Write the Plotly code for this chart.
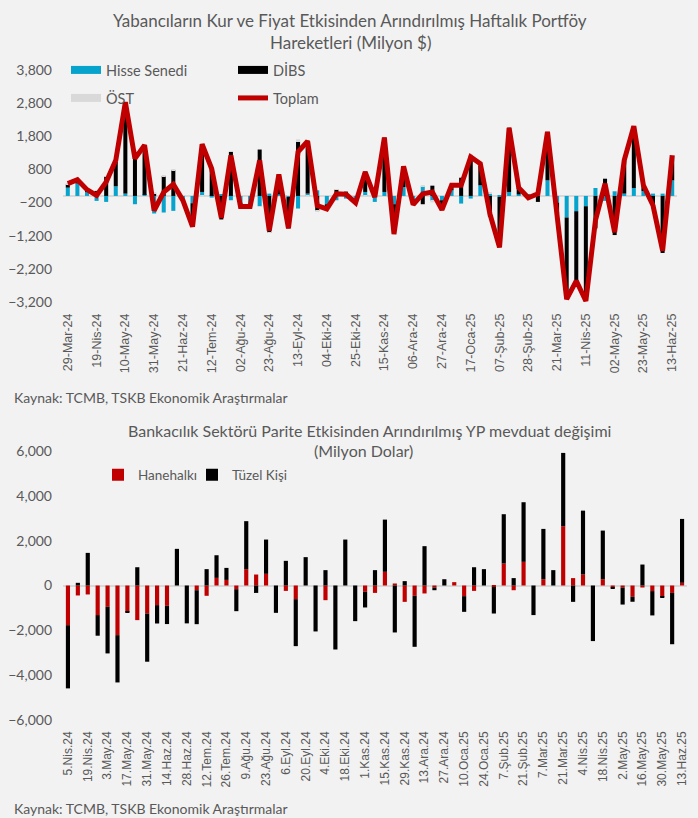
import plotly.graph_objects as go
import pandas as pd

# ---------------- Top chart data (weekly, Milyon $) ----------------
top_tick_labels = ["29-Mar-24", "19-Nis-24", "10-May-24", "31-May-24", "21-Haz-24", "12-Tem-24",
                   "02-Ağu-24", "23-Ağu-24", "13-Eyl-24", "04-Eki-24", "25-Eki-24", "15-Kas-24",
                   "06-Ara-24", "27-Ara-24", "17-Oca-25", "07-Şub-25", "28-Şub-25", "21-Mar-25",
                   "11-Nis-25", "02-May-25", "23-May-25", "13-Haz-25"]

hisse = [250, 375, 120, -150, -180, 290, 70, -250, 30, -530, -500, -450, -100, -220, 120, -50,
         50, -130, -210, -250, -310, 70, 50, -30, -380, 70, 170, -250, -130, -80, -100, 120,
         -180, 120, -250, 270, -100, 290, -150, -130, 170, -230, -80, 320, 70, -30, 120, 50,
         30, 100, 470, -200, -650, -460, -310, 240, -150, 140, 70, 240, 150, 70, 70, 470]

dibs = [100, 100, 70, 150, 595, 740, 2720, 1350, 1500, 70, 600, 780, -30, -700, 1450, 830,
        -710, 1330, -110, -70, 1400, -1110, 600, -950, 1650, 1600, -450, -140, 190, 130, -110, 620,
        150, 1640, -900, 620, -160, -250, 310, -290, 150, 550, 1220, 600, -630, -1520, 1940, 200,
        -85, -180, 1460, -340, -2460, -2100, -2860, -980, 520, -1180, 1000, 1860, 170, -360, -1720, 750]

ost = [20, 10, 0, 15, 5, 45, 0, 25, 0, 20, 15, 20, -5, 0, -10, 40,
       0, 25, 0, 0, -15, -5, 0, 5, 60, -20, -10, 0, 5, 0, 0, -20,
       0, 0, 0, 5, 0, 25, -45, 0, 0, 0, 35, 55, 50, 0, 0, 0,
       0, 145, 5, 0, -5, 0, 0, 0, 0, 0, 5, 5, 0, 0, 0, 5]

toplam = [370, 490, 190, 15, 420, 1075, 2830, 1125, 1530, -440, 115, 350, -135, -925, 1560, 820,
          -660, 1225, -320, -320, 1075, -1045, 650, -975, 1330, 1650, -290, -390, 65, 50, -210, 720,
          -35, 1760, -1150, 895, -260, 65, 115, -420, 320, 320, 1175, 975, -540, -1550, 2055, 250,
          -55, 65, 1935, -540, -3115, -2560, -3170, -740, 370, -1095, 1075, 2105, 320, -290, -1650, 1225]

top_weeks = [d.strftime("%Y-%m-%d") for d in pd.date_range("2024-03-29", periods=len(toplam), freq="7D")]

# ---------------- Bottom chart data (weekly, Milyon Dolar) ----------------
bottom_tick_labels = ["5.Nis.24", "19.Nis.24", "3.May.24", "17.May.24", "31.May.24", "14.Haz.24",
                      "28.Haz.24", "12.Tem.24", "26.Tem.24", "9.Ağu.24", "23.Ağu.24", "6.Eyl.24",
                      "20.Eyl.24", "4.Eki.24", "18.Eki.24", "1.Kas.24", "15.Kas.24", "29.Kas.24",
                      "13.Ara.24", "27.Ara.24", "10.Oca.25", "24.Oca.25", "7.Şub.25", "21.Şub.25",
                      "7.Mar.25", "21.Mar.25", "4.Nis.25", "18.Nis.25", "2.May.25", "16.May.25",
                      "30.May.25", "13.Haz.25"]

hanehalki = [-1770, -445, -400, -1320, -950, -2215, -1170, -1545, -1250, -875, -905, 0, 0, -210, -460, 340,
             250, -165, 730, 490, 520, 0, -240, -610, 0, 0, -655, 0, 0, 0, -280, -330,
             610, 90, -730, -460, -355, -90, 0, 150, -475, -240, 0, -60, 980, -210, 1055, 0,
             280, 0, 2645, 330, 490, 0, 280, -90, -90, -505, -90, -250, -505, -330, 120]

tuzel = [-2820, 120, 1455, -920, -2080, -2110, -50, 815, -2150, -820, -815, 1635, -1690, -1515, 730, 1010,
         535, -980, 2140, -330, 1530, -1220, 1100, -2095, 1265, -2050, 685, -2855, 2050, -1590, -700, 685,
         2330, -2095, 195, -2275, 1755, -120, 280, 0, -700, 815, 730, -1190, 2200, 330, 2660, -1320,
         2245, 685, 3270, -730, 2850, -2480, 2170, -60, -760, -220, 935, -1085, -30, -2290, 2850]

bottom_weeks = [d.strftime("%Y-%m-%d") for d in pd.date_range("2024-04-05", periods=len(tuzel), freq="7D")]

# ---------------- Styling ----------------
W, H = 698, 818
BG = "#F2F2F2"
TXT = "#595959"
FONT = "Lato"
BLUE = "#06A3CD"
RED = "#C00000"
GREY = "#D9D9D9"


def px(x):
    return x / W


def py(y):
    return 1 - y / H


fig = go.Figure()

# top bars
fig.add_trace(go.Bar(x=top_weeks, y=hisse, marker_color=BLUE, showlegend=False, xaxis="x", yaxis="y",
                     marker_line_width=0))
fig.add_trace(go.Bar(x=top_weeks, y=dibs, marker_color="#000000", showlegend=False, xaxis="x", yaxis="y",
                     marker_line_width=0))
fig.add_trace(go.Bar(x=top_weeks, y=ost, marker_color=GREY, showlegend=False, xaxis="x", yaxis="y",
                     marker_line_width=0))
# legend swatches for top bars
fig.add_trace(go.Scatter(x=[None], y=[None], mode="lines", line=dict(color=BLUE, width=8),
                         name="Hisse Senedi", legend="legend", xaxis="x", yaxis="y"))
fig.add_trace(go.Scatter(x=[None], y=[None], mode="lines", line=dict(color="#000000", width=8),
                         name="DİBS", legend="legend", xaxis="x", yaxis="y"))
fig.add_trace(go.Scatter(x=[None], y=[None], mode="lines", line=dict(color=GREY, width=8),
                         name="ÖST", legend="legend2", xaxis="x", yaxis="y"))
fig.add_trace(go.Scatter(x=top_weeks, y=toplam, mode="lines", line=dict(color=RED, width=5),
                         name="Toplam", legend="legend2", xaxis="x", yaxis="y"))

# bottom bars
fig.add_trace(go.Bar(x=bottom_weeks, y=hanehalki, marker_color=RED, name="Hanehalkı", legend="legend3",
                     xaxis="x2", yaxis="y2", marker_line_width=0))
fig.add_trace(go.Bar(x=bottom_weeks, y=tuzel, marker_color="#000000", name="Tüzel Kişi", legend="legend4",
                     xaxis="x2", yaxis="y2", marker_line_width=0))

tick_font = dict(family="Liberation Sans", size=12.5, color=TXT)
ytick_font = dict(family=FONT, size=14, color=TXT)
small_legend = dict(orientation="h", xanchor="left", yanchor="middle", bgcolor="rgba(0,0,0,0)",
                    font=dict(family=FONT, size=13.5, color=TXT), itemwidth=30)

fig.update_layout(
    width=W, height=H,
    paper_bgcolor=BG, plot_bgcolor=BG,
    margin=dict(l=0, r=0, t=0, b=0, autoexpand=False),
    barmode="relative", bargap=0.58,
    font=dict(family=FONT, color=TXT),
    xaxis=dict(domain=[px(63), px(677)], type="category", range=[-0.5, len(top_weeks) - 0.5],
               tickvals=top_weeks[::3], ticktext=top_tick_labels, tickangle=-90,
               tickfont=tick_font, showgrid=False, showline=False, ticks="", anchor="y",
               ticklabelstandoff=8, automargin=False),
    yaxis=dict(domain=[py(302), py(70)], range=[-3200, 3800], tickvals=list(range(-3200, 3801, 1000)),
               tickformat=",", tickfont=ytick_font, showgrid=False, zeroline=True,
               zerolinecolor=GREY, zerolinewidth=2, showline=False, ticks="", anchor="x",
               ticklabelstandoff=10, automargin=False),
    xaxis2=dict(domain=[px(63), px(687)], type="category", range=[-0.5, len(bottom_weeks) - 0.5],
                tickvals=bottom_weeks[::2], ticktext=bottom_tick_labels, tickangle=-90,
                tickfont=dict(family="Liberation Sans", size=12, color=TXT), showgrid=False,
                showline=False, ticks="", anchor="y2", ticklabelstandoff=8, automargin=False),
    yaxis2=dict(domain=[py(720), py(451)], range=[-6000, 6000], tickvals=list(range(-6000, 6001, 2000)),
                tickformat=",", tickfont=ytick_font, showgrid=False, zeroline=True,
                zerolinecolor=GREY, zerolinewidth=2, showline=False, ticks="", anchor="x2",
                ticklabelstandoff=10, automargin=False),
    legend=dict(orientation="h", x=px(66), y=py(70), xanchor="left", yanchor="middle",
                bgcolor="rgba(0,0,0,0)", font=dict(family=FONT, size=14.5, color=TXT),
                entrywidth=122, entrywidthmode="pixels", traceorder="normal"),
    legend2=dict(orientation="h", x=px(66), y=py(98), xanchor="left", yanchor="middle",
                 bgcolor="rgba(0,0,0,0)", font=dict(family=FONT, size=14.5, color=TXT),
                 entrywidth=122, entrywidthmode="pixels", traceorder="normal"),
    legend3=dict(small_legend, x=px(98), y=py(475)),
    legend4=dict(small_legend, x=px(192), y=py(475)),
)

annotations = [
    dict(text="Yabancıların Kur ve Fiyat Etkisinden Arındırılmış Haftalık Portföy", x=px(350), y=py(20),
         font=dict(family=FONT, size=17, color=TXT)),
    dict(text="Hareketleri (Milyon $)", x=px(350), y=py(43), font=dict(family=FONT, size=17, color=TXT)),
    dict(text="Kaynak: TCMB, TSKB Ekonomik Araştırmalar", x=px(12), y=py(397), xanchor="left",
         font=dict(family=FONT, size=14, color=TXT)),
    dict(text="Bankacılık Sektörü Parite Etkisinden Arındırılmış YP mevduat değişimi", x=px(369), y=py(430),
         font=dict(family=FONT, size=16, color=TXT)),
    dict(text="(Milyon Dolar)", x=px(364), y=py(450), font=dict(family=FONT, size=16, color=TXT)),
    dict(text="Kaynak: TCMB, TSKB Ekonomik Araştırmalar", x=px(12), y=py(808), xanchor="left",
         font=dict(family=FONT, size=14, color=TXT)),
]
for a in annotations:
    a.setdefault("xanchor", "center")
    a.update(xref="paper", yref="paper", yanchor="middle", showarrow=False)
fig.update_layout(annotations=annotations)

fig.write_html(
    "out.html",
    config={"displayModeBar": False},
    post_script="document.body.style.margin='0';document.body.style.padding='0';"
                "document.body.style.background='#F2F2F2';document.body.style.overflow='hidden';",
)
